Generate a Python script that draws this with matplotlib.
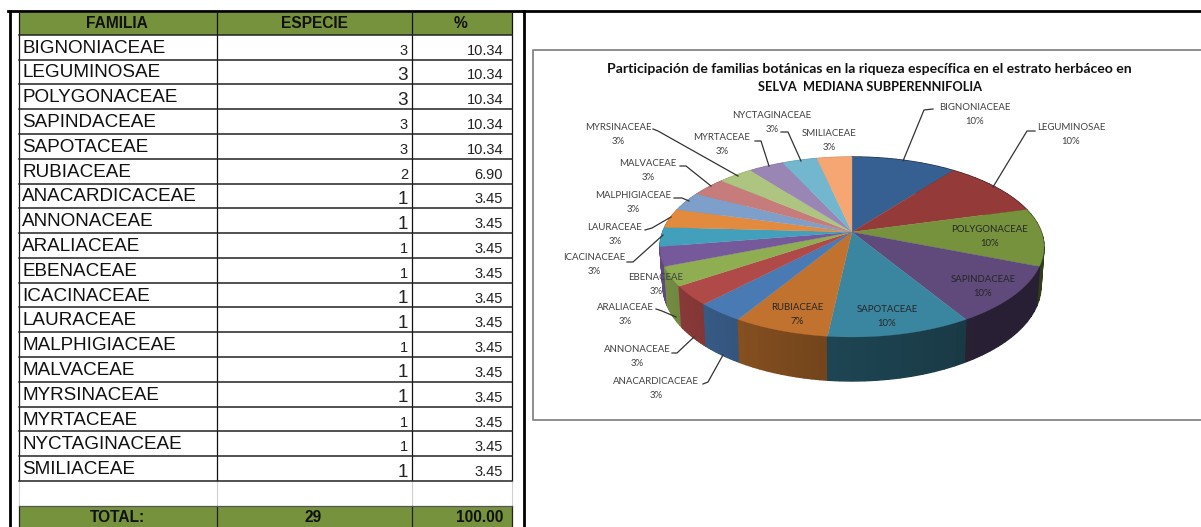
import numpy as np
import matplotlib
matplotlib.use("Agg")
import matplotlib.pyplot as plt
from matplotlib.colors import to_rgb

familias = ["BIGNONIACEAE", "LEGUMINOSAE", "POLYGONACEAE", "SAPINDACEAE", "SAPOTACEAE", "RUBIACEAE",
            "ANACARDICACEAE", "ANNONACEAE", "ARALIACEAE", "EBENACEAE", "ICACINACEAE", "LAURACEAE",
            "MALPHIGIACEAE", "MALVACEAE", "MYRSINACEAE", "MYRTACEAE", "NYCTAGINACEAE", "SMILIACEAE"]
especies = [3, 3, 3, 3, 3, 2, 1, 1, 1, 1, 1, 1, 1, 1, 1, 1, 1, 1]
porcentaje = ["10.34", "10.34", "10.34", "10.34", "10.34", "6.90", "3.45", "3.45", "3.45", "3.45",
              "3.45", "3.45", "3.45", "3.45", "3.45", "3.45", "3.45", "3.45"]
etiquetas = ["10%", "10%", "10%", "10%", "10%", "7%", "3%", "3%", "3%", "3%", "3%", "3%", "3%", "3%",
             "3%", "3%", "3%", "3%"]
colores = ["#376092", "#943a38", "#76923c", "#604a7b", "#3a85a0", "#c0722e", "#4a7ab4", "#b04a48", "#8fae52",
           "#75599a", "#43a0bc", "#e28a3e", "#7f9fcb", "#c67c7a", "#aec582", "#9a86b4", "#73b7ce", "#f6a673"]
total_especies = "29"
total_porcentaje = "100.00"
titulo = ["Participación de familias botánicas en la riqueza específica en el estrato herbáceo en",
          "SELVA  MEDIANA SUBPERENNIFOLIA"]

# some cells of the sheet have a larger font
grande = [0, 1, 1, 0, 0, 0, 1, 1, 0, 0, 1, 1, 0, 1, 1, 0, 0, 1]

# label centre x, first line y, then leader line points (pixels)
pos_etiquetas = [
    (975, 107, [(933, 109), (924, 110), (903, 161)]),
    (1071, 128, [(1035, 131), (1027, 131), (993, 187)]),
    (990, 229, None),
    (983, 279, None),
    (887, 310, None),
    (797, 308, None),
    (656, 381, [(703, 384), (708, 382), (723, 355)]),
    (637, 350, [(672, 353), (677, 353), (694, 337)]),
    (625, 307, [(656, 309), (662, 311), (676, 317)]),
    (656, 277, None),
    (594, 258, [(627, 262), (633, 262), (663, 235)]),
    (615, 227, [(645, 230), (652, 228), (671, 217)]),
    (633, 195, [(674, 198), (682, 198), (689, 201)]),
    (648, 164, [(680, 166), (686, 166), (711, 186)]),
    (618, 128, [(653, 129), (658, 131), (738, 176)]),
    (722, 138, [(755, 141), (761, 141), (769, 166)]),
    (772, 115, [(781, 132), (788, 132), (801, 161)]),
    (829, 133, None),
]

fig = plt.figure(figsize=(12.01, 5.27), dpi=100)
ax = fig.add_axes([0, 0, 1, 1])
ax.set_xlim(0, 1201)
ax.set_ylim(527, 0)
ax.axis("off")

# table
xs = [18.6, 217, 412, 512]
y0 = 34.8
y1 = 481
fila = (y1 - y0) / len(familias)
verde = "#76923c"
ax.fill_between([xs[0], xs[3]], 13, y0, color=verde, lw=0)
ax.fill_between([xs[0], xs[3]], 506, 527, color=verde, lw=0)
ax.plot([9.5, 9.5], [11, 527], color="k", lw=2)
ax.plot([524, 524], [11, 527], color="k", lw=2)
ax.plot([8, 1201], [11, 11], color="k", lw=2)
for x in xs:
    ax.plot([x, x], [13, y1], color="#111111", lw=0.9)
    ax.plot([x, x], [y1, 506], color="#d0d0d0", lw=0.8)
    ax.plot([x, x], [506, 527], color="#222222", lw=0.9)
for i in range(len(familias) + 1):
    y = y0 + i * fila
    ax.plot([xs[0], xs[3]], [y, y], color="#222222", lw=1.1)
ax.plot([xs[0], xs[3]], [506, 506], color="#555555", lw=0.9)
hdr = dict(family="Liberation Sans", weight="bold", fontsize=11.2, color="#111111", ha="center", va="center")
ax.text(117, 24, "FAMILIA", **hdr)
ax.text(314, 24, "ESPECIE", **hdr)
ax.text(461, 24, "%", **hdr)
ax.text(117, 518, "TOTAL:", **hdr)
ax.text(313.5, 518, total_especies, **hdr)
ax.text(503, 518, total_porcentaje, **{**hdr, "ha": "right"})
for i, f in enumerate(familias):
    y = y0 + i * fila + fila / 2
    ax.text(22, y + 1, f, family="Liberation Sans", fontsize=13.6, color="#111111", ha="left", va="center")
    ax.text(408, y + 3.5, str(especies[i]), family="Liberation Sans", fontsize=13.6 if grande[i] else 10.5,
            color="#222222", ha="right", va="center")
    ax.text(503, y + 3.5, porcentaje[i], family="Liberation Sans", fontsize=10.5, color="#222222", ha="right", va="center")

# chart frame
ax.plot([1201, 533, 533, 1201], [49.5, 49.5, 420, 420], color="#868686", lw=1.3)
ax.text(869, 69, titulo[0], family="Lato", weight="bold", fontsize=10.05, color="#111111", ha="center", va="center")
ax.text(869.5, 87, titulo[1], family="Lato", weight="bold", fontsize=9.2, color="#111111", ha="center", va="center")

# 3d pie: unit circle through a perspective projection
cx, cy = 852, 232
q = 1 / 6


def proyecta(t):
    s, c = np.sin(t), np.cos(t)
    w = 1 + q * c
    return cx + 189.3 * s / w, cy - 87.5 * c / w


def proyecta_base(t):
    x, y = proyecta(t)
    return cx + (x - cx) * 0.985, y + 37 - 7 * np.cos(t)


def oscurece(col, f):
    return tuple(v * f for v in to_rgb(col))


limites = np.cumsum([0] + especies) / np.sum(especies) * 2 * np.pi

# walls, back to front
trozos = []
for i in range(len(especies)):
    ts = np.linspace(limites[i], limites[i + 1], 13)
    for a, b in zip(ts[:-1], ts[1:]):
        trozos.append((np.cos((a + b) / 2), a, b, colores[i]))
trozos.sort(key=lambda v: -v[0])
for c, a, b, col in trozos:
    t = np.linspace(a, b, 5)
    x1, y1_ = proyecta(t)
    x2, y2_ = proyecta_base(t)
    grados = np.degrees((a + b) / 2)
    f = np.interp(grados, [110, 145, 185.9, 186.3, 223, 260, 300], [0.42, 0.42, 0.52, 0.6, 0.74, 0.85, 0.88])
    ax.fill(np.r_[x1, x2[::-1]], np.r_[y1_, y2_[::-1]], color=oscurece(col, f), lw=1)

# top face
for i in range(len(especies)):
    t = np.linspace(limites[i], limites[i + 1], 40)
    x, y = proyecta(t)
    ax.fill(np.r_[cx, x], np.r_[cy, y], color=colores[i], lw=0.2)

# labels
for i, (lx, ly, linea) in enumerate(pos_etiquetas):
    oscuro = linea is None and i < 6
    col = "#262626" if oscuro else "#404040"
    ax.text(lx, ly, familias[i], family="Lato", fontsize=6.9, color=col, ha="center", va="center")
    ax.text(lx, ly + 14, etiquetas[i], family="Lato", fontsize=6.9, color=col, ha="center", va="center")
    if linea is not None:
        ax.plot([p[0] for p in linea], [p[1] for p in linea], color="#333333", lw=0.9)

fig.savefig("out.png", dpi=100)
